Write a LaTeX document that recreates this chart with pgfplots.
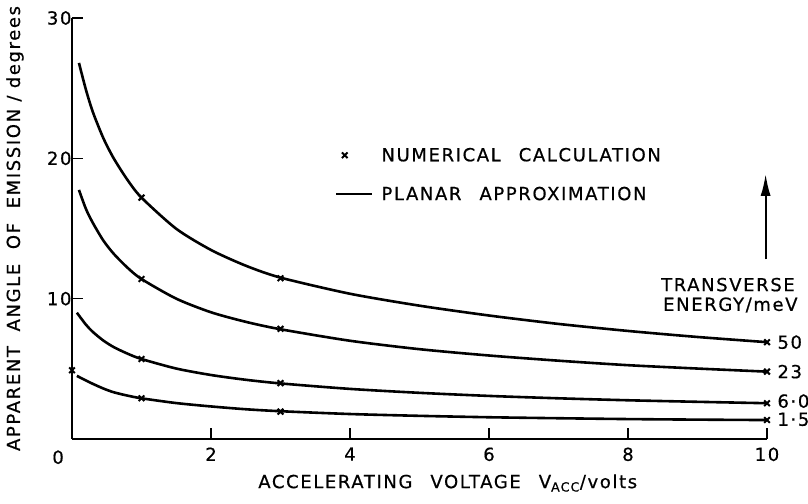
\documentclass[border=0pt]{standalone}
\usepackage{pgfplots}
\pgfplotsset{compat=1.18}
\usepackage{pgfplotstable}
\usepackage{fontspec}
\setmainfont{DejaVu Sans}[LetterSpace=9, FakeBold=0.6]
\usetikzlibrary{arrows.meta}

\newcommand\lab{\fontsize{18}{21}\selectfont}

% Planar approximation, one curve per transverse energy (meV)
\pgfplotstableread{
x y
0.10 26.8
0.20 24.9
0.30 23.3
0.45 21.45
0.60 20.0
0.80 18.45
1.00 17.2
1.50 14.98
2.00 13.47
2.50 12.35
3.00 11.5
4.00 10.35
5.00 9.5
6.00 8.8
7.00 8.2
8.00 7.7
9.00 7.27
10.00 6.9
}\curveFifty
\pgfplotstableread{
x y
0.10 17.75
0.20 16.4
0.30 15.4
0.45 14.15
0.60 13.2
0.80 12.2
1.00 11.4
1.50 10.0
2.00 9.03
2.50 8.35
3.00 7.82
4.00 7.0
5.00 6.4
6.00 5.95
7.00 5.58
8.00 5.26
9.00 5.02
10.00 4.8
}\curveTwentyThree
\pgfplotstableread{
x y
0.07 9.0
0.20 8.15
0.30 7.63
0.45 7.02
0.60 6.55
0.80 6.08
1.00 5.7
1.50 5.02
2.00 4.56
2.50 4.22
3.00 3.96
4.00 3.57
5.00 3.29
6.00 3.07
7.00 2.9
8.00 2.76
9.00 2.65
10.00 2.55
}\curveSix
\pgfplotstableread{
x y
0.07 4.5
0.20 4.17
0.30 3.93
0.45 3.6
0.60 3.33
0.80 3.09
1.00 2.9
1.50 2.56
2.00 2.32
2.50 2.12
3.00 1.98
4.00 1.78
5.00 1.65
6.00 1.55
7.00 1.48
8.00 1.42
9.00 1.38
10.00 1.35
}\curveOneFive
% Numerical calculation
\pgfplotstableread{
x y
1 17.2
3 11.45
10 6.9
1 11.4
3 7.85
10 4.8
1 5.7
3 3.98
10 2.55
0 4.9
1 2.9
3 1.95
10 1.35
}\numerical

\begin{document}
\begin{tikzpicture}
\useasboundingbox (-72pt,-64pt) rectangle (736pt,439pt);
\begin{axis}[
  scale only axis,
  width=695pt, height=421pt,
  xmin=0, xmax=10, ymin=0, ymax=30,
  axis lines*=left,
  axis line style={line width=1.5pt},
  xtick={2,4,6,8,10},
  ytick={10,20,30},
  tick align=inside,
  major tick length=11pt,
  tick style={line width=1.5pt, black},
  ticklabel style={font=\lab},
  /pgf/number format/assume math mode=true,
  xticklabel style={yshift=-5pt},
  yticklabel style={xshift=3pt},
  clip=false,
  legend style={at={(axis cs:3.78,20.9)}, anchor=north west, draw=none, fill=none,
    font=\lab, row sep=20pt, inner sep=0pt, cells={anchor=west}},
]
\addplot[only marks, mark=x, mark size=4pt, mark options={line width=2pt}]
  table {\numerical};
\addlegendentry{\hspace{6pt}NUMERICAL\quad CALCULATION}
\addplot[line width=2.6pt, smooth, tension=0.45,
  legend image code/.code={\draw[line width=2.6pt] (0pt,0pt) -- (36pt,0pt);}]
  table {\curveFifty};
\addlegendentry{\hspace{6pt}PLANAR\quad APPROXIMATION}
\addplot[line width=2.6pt, smooth, tension=0.45, forget plot] table {\curveTwentyThree};
\addplot[line width=2.6pt, smooth, tension=0.45, forget plot] table {\curveSix};
\addplot[line width=2.6pt, smooth, tension=0.45, forget plot] table {\curveOneFive};

\node[font=\lab] at (axis cs:-0.2,-1.3) {0};
\node[font=\lab, anchor=west] at (axis cs:10.1,6.9) {50};
\node[font=\lab, anchor=west] at (axis cs:10.1,4.8) {23};
\node[font=\lab, anchor=west] at (axis cs:10.1,2.7) {6\textperiodcentered 0};
\node[font=\lab, anchor=west] at (axis cs:10.1,1.4) {1\textperiodcentered 5};
\node[font=\lab, anchor=east] at (axis cs:10.45,11.0) {TRANSVERSE};
\node[font=\lab, anchor=east] at (axis cs:10.49,9.55) {ENERGY/meV};
\draw[line width=2.2pt, -{Latex[length=22pt, width=10pt]}] (axis cs:9.98,12.8) -- (axis cs:9.98,18.9);
\node[font=\lab, rotate=90] at (axis cs:-0.82,15.0) {APPARENT\ \ ANGLE\ \ OF\ \ EMISSION / degrees};
\node[font=\lab, anchor=west] at (axis cs:2.63,-3.14) {ACCELERATING\quad VOLTAGE\quad V\textsubscript{ACC}/volts};
\end{axis}
\end{tikzpicture}
\end{document}
